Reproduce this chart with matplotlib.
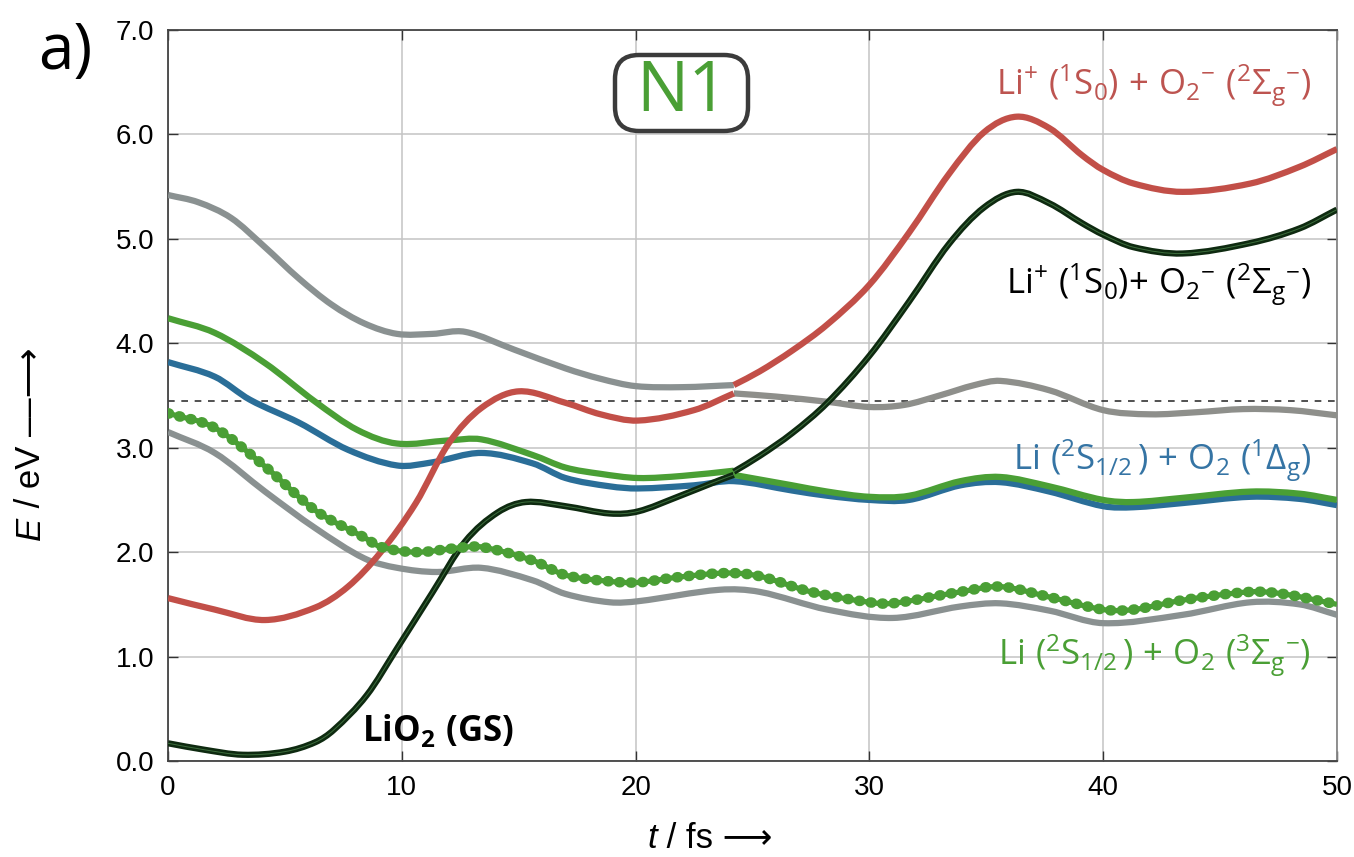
import numpy as np
import matplotlib
matplotlib.use("Agg")
import matplotlib.pyplot as plt
from matplotlib.path import Path
from matplotlib.patches import PathPatch, FancyBboxPatch
from matplotlib.transforms import IdentityTransform

plt.rcParams['font.family'] = ['Liberation Sans', 'DejaVu Sans']
plt.rcParams['mathtext.fontset'] = 'custom'
plt.rcParams['mathtext.rm'] = 'Open Sans'
plt.rcParams['mathtext.it'] = 'Open Sans:italic'
plt.rcParams['mathtext.bf'] = 'Open Sans:bold'

# --- data (t in fs, E in eV) ---
# upper gray state up to the avoided crossing at ~24 fs
t_gray_top = [0, 1.3, 2.7, 4.1, 5.6, 7.0, 8.4, 9.8, 11.3, 12.7, 14.8, 17, 18.5, 20, 22, 24.2]
e_gray_top = [5.42, 5.35, 5.20, 4.93, 4.62, 4.37, 4.19, 4.09, 4.09, 4.11, 3.94, 3.76, 3.66, 3.59, 3.58, 3.60]

# ionic (red) state after 24 fs
t_red_up = [24.2, 25.3, 26.7, 28.2, 30, 31.7, 33.4, 34.9, 36.3, 37.7, 39.1, 40, 41.3, 43.4, 46.3, 48.4, 50]
e_red_up = [3.60, 3.73, 3.93, 4.18, 4.56, 5.06, 5.62, 6.02, 6.17, 6.06, 5.80, 5.66, 5.53, 5.45, 5.53, 5.69, 5.86]

# ionic (red) state before 24 fs
t_red_low = [0, 2, 4.15, 6.3, 7.7, 9.1, 10.6, 12, 13.4, 15, 17, 18.5, 20.1, 22.5, 24.2]
e_red_low = [1.56, 1.45, 1.35, 1.47, 1.67, 2.00, 2.47, 3.04, 3.38, 3.54, 3.43, 3.32, 3.26, 3.36, 3.52]

# gray state after 24 fs (near the dashed line)
t_gray_mid = [24.2, 26, 28.2, 30, 31.5, 33, 34.5, 35.6, 37.7, 40, 42, 44, 46, 48, 50]
e_gray_mid = [3.52, 3.49, 3.44, 3.39, 3.41, 3.50, 3.60, 3.64, 3.55, 3.36, 3.32, 3.34, 3.37, 3.36, 3.31]

# ground state LiO2 (dark green) before / after 24 fs
t_gs_low = [0, 1.5, 3.2, 5, 6.3, 7.1, 8.5, 9.8, 11.3, 12.7, 14.1, 15.3, 17, 18.9, 20.1, 21.8, 23.6, 24.2]
e_gs_low = [0.17, 0.11, 0.06, 0.09, 0.18, 0.30, 0.63, 1.08, 1.61, 2.10, 2.38, 2.48, 2.44, 2.37, 2.39, 2.53, 2.69, 2.74]
t_gs_up = [24.2, 25.3, 26.7, 28.2, 30, 31.7, 33.4, 34.9, 36.3, 37.7, 39.1, 40, 41.3, 43.4, 46.3, 48.4, 50]
e_gs_up = [2.77, 2.92, 3.14, 3.43, 3.88, 4.40, 4.95, 5.30, 5.45, 5.34, 5.15, 5.04, 4.92, 4.86, 4.96, 5.10, 5.28]

# O2(1Delta_g) states: green and blue
t_green_up = [0, 2, 4.15, 6.3, 8.1, 9.8, 12, 13.4, 15.6, 17, 18.5, 20.1, 22, 24.2]
e_green_up = [4.24, 4.10, 3.81, 3.44, 3.17, 3.04, 3.07, 3.08, 2.93, 2.81, 2.75, 2.71, 2.73, 2.78]
t_green_low = [24.2, 26.7, 28.2, 30, 31.7, 33.9, 35.6, 37.7, 40, 41.3, 43.4, 46.3, 48.4, 50]
e_green_low = [2.74, 2.64, 2.58, 2.53, 2.54, 2.68, 2.72, 2.63, 2.50, 2.48, 2.52, 2.58, 2.56, 2.50]
t_blue = [0, 2, 3.5, 5.6, 7.7, 9.8, 11.3, 13.4, 15.6, 17, 18.9, 20.1, 22.5, 24.2, 26.7, 28.2,
          30, 31.7, 33.9, 35.6, 37.7, 40, 41.3, 43.4, 46.3, 48.4, 50]
e_blue = [3.82, 3.68, 3.46, 3.24, 2.98, 2.83, 2.86, 2.95, 2.85, 2.71, 2.63, 2.61, 2.64, 2.68, 2.59, 2.54,
          2.50, 2.50, 2.64, 2.67, 2.58, 2.44, 2.43, 2.47, 2.53, 2.51, 2.45]

# populated state (beaded green) and lower gray state
t_active = [0, 2, 4.15, 6.3, 8.4, 9.1, 10.6, 12.4, 13.4, 15.6, 17, 18.9, 20.1, 21.8, 23.9, 25.3,
            27.5, 30, 31, 33.9, 35.6, 37.7, 40, 41.3, 43.4, 46.3, 47.7, 50]
e_active = [3.33, 3.19, 2.82, 2.40, 2.14, 2.05, 2.00, 2.04, 2.05, 1.92, 1.78, 1.72, 1.71, 1.76, 1.80, 1.77,
            1.62, 1.52, 1.51, 1.62, 1.67, 1.57, 1.45, 1.45, 1.54, 1.62, 1.60, 1.50]
t_gray_low = [0, 2, 4.15, 6.3, 8.4, 9.8, 11.5, 13.4, 15.6, 17, 18.9, 20.1, 23.6, 25.3, 28.2, 31,
              33.9, 35.6, 37.7, 40, 43.4, 46.3, 48.4, 50]
e_gray_low = [3.15, 2.95, 2.58, 2.23, 1.94, 1.85, 1.81, 1.85, 1.73, 1.60, 1.52, 1.53, 1.64, 1.62, 1.45, 1.37,
              1.48, 1.51, 1.44, 1.32, 1.40, 1.52, 1.50, 1.40]

e_excite = 3.45  # dashed line

RED = '#c24f48'
GRAY = '#8a9191'
GREEN = '#4a9f35'
BLUE = '#2a6e98'
DARK = '#0e2a10'


def smooth_path(t, e):
    """cubic hermite curve through the read points, as a matplotlib Path"""
    t = np.asarray(t, float)
    e = np.asarray(e, float)
    n = len(t)
    d = np.zeros(n)
    d[0] = (e[1] - e[0]) / (t[1] - t[0])
    d[-1] = (e[-1] - e[-2]) / (t[-1] - t[-2])
    for i in range(1, n - 1):
        d[i] = (e[i + 1] - e[i - 1]) / (t[i + 1] - t[i - 1])
    verts = [(t[0], e[0])]
    codes = [Path.MOVETO]
    for i in range(n - 1):
        h = t[i + 1] - t[i]
        verts += [(t[i] + h / 3, e[i] + d[i] * h / 3),
                  (t[i + 1] - h / 3, e[i + 1] - d[i + 1] * h / 3),
                  (t[i + 1], e[i + 1])]
        codes += [Path.CURVE4] * 3
    return Path(verts, codes)


def draw(ax, t, e, color, lw=4.5, z=3, **kw):
    kw.setdefault('capstyle', 'butt')
    ax.add_patch(PathPatch(smooth_path(t, e), fill=False, edgecolor=color,
                           linewidth=lw, zorder=z, **kw))


fig = plt.figure(figsize=(13.54, 8.57), dpi=100)
ax = fig.add_axes([0.1241, 0.112, 0.8633, 0.853])
ax.set_xlim(0, 50)
ax.set_ylim(0, 7)

ax.set_xticks(np.arange(0, 51, 10))
ax.set_yticks(np.arange(0, 7.1, 1.0))
ax.set_yticklabels(['%.1f' % v for v in np.arange(0, 7.1, 1.0)])
ax.tick_params(direction='in', length=7, width=1.0, labelsize=20, pad=10,
               top=True, right=True, colors='#333333', labelcolor='black')
ax.grid(True, color='#c4c4c4', lw=1.1)
ax.set_axisbelow(True)
for s in ax.spines.values():
    s.set_color('#444444')
    s.set_linewidth(1.3)
ax.spines['right'].set_color('#888888')

ax.axhline(e_excite, color='#333333', lw=1.2, ls=(0, (4, 4)), zorder=2)

draw(ax, t_gray_top, e_gray_top, GRAY)
draw(ax, t_gray_mid, e_gray_mid, '#8e8f8b')
draw(ax, t_gray_low, e_gray_low, GRAY)
draw(ax, t_blue, e_blue, BLUE)
draw(ax, t_green_up, e_green_up, GREEN)
draw(ax, t_green_low, e_green_low, GREEN, z=3.5)
draw(ax, t_red_low, e_red_low, RED, z=4)
draw(ax, t_red_up, e_red_up, RED, z=4)
draw(ax, t_gs_low, e_gs_low, DARK, z=5)
draw(ax, t_gs_up, e_gs_up, DARK, z=5)
draw(ax, t_gs_low, e_gs_low, '#3d6e3d', lw=0.7, z=5.1)
draw(ax, t_gs_up, e_gs_up, '#3d6e3d', lw=0.7, z=5.1)

# populated state: solid line with beads on top
draw(ax, t_active, e_active, GREEN, lw=3.8, z=6)
draw(ax, t_active, e_active, GREEN, lw=7.6, z=6,
     linestyle=(0, (0.1, 1.0)), capstyle='round')

# state labels
lab = dict(fontsize=25, ha='right', va='center', zorder=8)
ax.text(48.9, 6.47, r'$\mathrm{Li^{+}\ (^{1}S_{0})\ {+}\ O_{2}{}^{-}\ (^{2}\Sigma_{g}{}^{-})}$',
        color='#bd5450', **lab)
ax.text(48.9, 4.56, r'$\mathrm{Li^{+}\ (^{1}S_{0}){+}\ O_{2}{}^{-}\ (^{2}\Sigma_{g}{}^{-})}$',
        color='black', **lab)
ax.text(48.9, 2.88, r'$\mathrm{Li\ (^{2}S_{1/2}\,)\ {+}\ O_{2}\ (^{1}\Delta_{g})}$',
        color='#3574a4', **lab)
ax.text(48.9, 1.01, r'$\mathrm{Li\ (^{2}S_{1/2}\,)\ {+}\ O_{2}\ (^{3}\Sigma_{g}{}^{-})}$',
        color=GREEN, **lab)
ax.text(8.3, 0.29, r'$\mathbf{LiO_{2}\ (GS)}$', fontsize=25, ha='left', va='center',
        color='black', zorder=8)

# N1 badge (pixel box)
badge = FancyBboxPatch((615, 857 - 131), 133, 76, boxstyle='round,pad=0,rounding_size=24',
                       fc='white', ec='#3b3b3b', lw=3.2, transform=IdentityTransform(),
                       zorder=9)
fig.add_artist(badge)
fig.text(682 / 1354, 1 - 93 / 857, 'N1', fontsize=50, family='Open Sans', color=GREEN,
         ha='center', va='center', zorder=10)

fig.text(65 / 1354, 1 - 52 / 857, 'a)', fontsize=46, family='Open Sans',
         ha='center', va='center')

# axis titles (italic symbol + rest)
fig.text(30 / 1354, 1 - 517 / 857, 'E', fontsize=25, style='italic', rotation=90,
         rotation_mode='anchor', ha='right', va='center')
fig.text(30 / 1354, 1 - 517 / 857, ' / eV ––⟶', fontsize=25, rotation=90,
         rotation_mode='anchor', ha='left', va='center')
fig.text(657 / 1354, 1 - 838 / 857, 't', fontsize=25, style='italic',
         ha='right', va='center')
fig.text(657 / 1354, 1 - 838 / 857, ' / fs ⟶', fontsize=25,
         ha='left', va='center')

fig.savefig('out.png', dpi=100)
